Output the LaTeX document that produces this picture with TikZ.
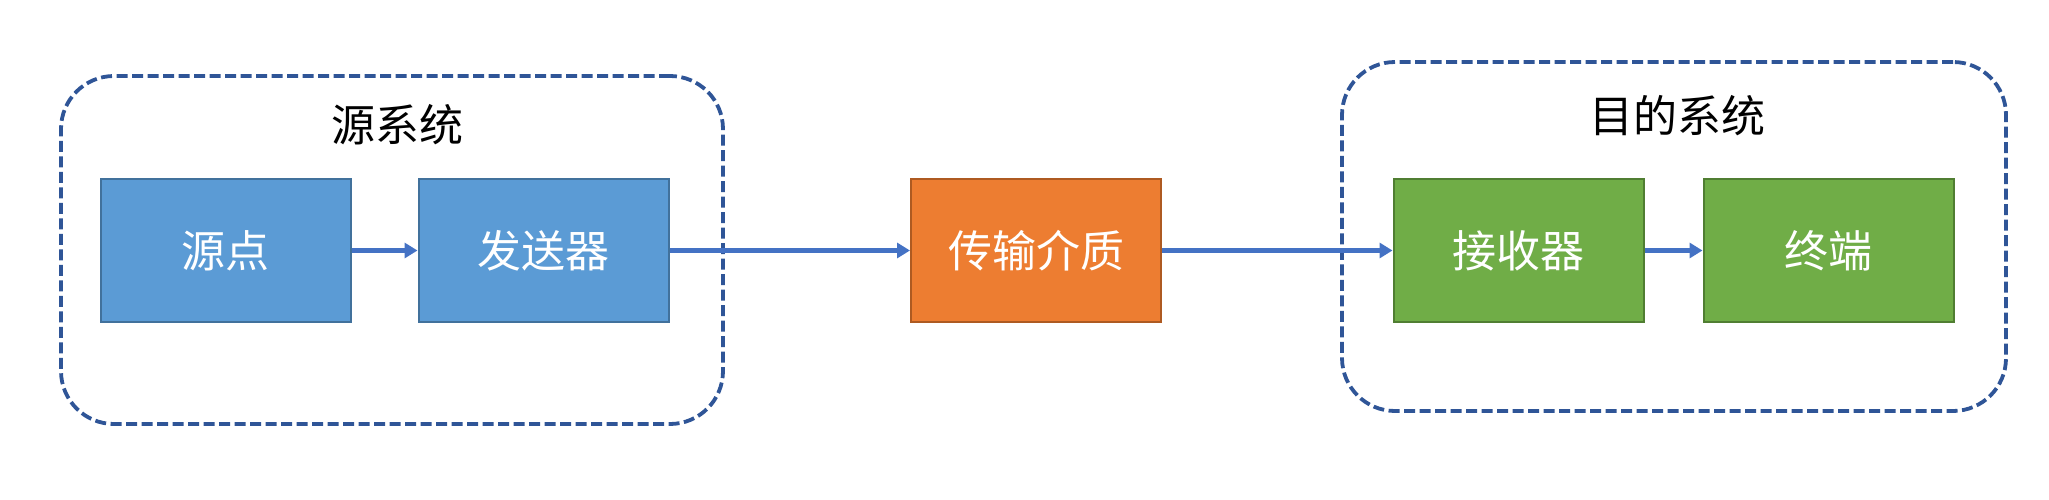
\documentclass[tikz,border=0pt]{standalone}
\usepackage{fontspec}
\newfontfamily\cjk{Noto Sans CJK SC}
\usetikzlibrary{arrows.meta}
\definecolor{bluefill}{HTML}{5B9BD5}
\definecolor{blueline}{HTML}{41719C}
\definecolor{orangefill}{HTML}{ED7D31}
\definecolor{orangeline}{HTML}{AE5A21}
\definecolor{greenfill}{HTML}{70AD47}
\definecolor{greenline}{HTML}{507E32}
\definecolor{groupline}{HTML}{2F5597}
\definecolor{arrowcol}{HTML}{4472C4}
\tikzset{
  stagebox/.style={draw, line width=2pt, minimum width=250pt, minimum height=143pt,
    inner sep=0pt, text=white, font=\cjk\fontsize{44}{50}\selectfont},
  bluebox/.style={stagebox, fill=bluefill, draw=blueline},
  orangebox/.style={stagebox, fill=orangefill, draw=orangeline},
  greenbox/.style={stagebox, fill=greenfill, draw=greenline},
  groupbox/.style={draw=groupline, line width=3.8pt, dash pattern=on 11pt off 4.5pt,
    rounded corners=53pt, inner sep=0pt},
  grouptitle/.style={text=black, inner sep=0pt, font=\cjk\fontsize{44}{50}\selectfont},
  flow/.style={draw=arrowcol, line width=4.2pt, -{Triangle[length=13pt,width=15pt]}}
}
\begin{document}
\begin{tikzpicture}[x=1pt,y=-1pt]
\useasboundingbox (0,0) rectangle (2049,500);
% groups
\node[groupbox, minimum width=662pt, minimum height=348pt] (srcgrp) at (392,250) {};
\node[groupbox, minimum width=664pt, minimum height=349pt] (dstgrp) at (1674,236.5) {};
\node[grouptitle] (srctitle) at (397,125) {源系统};
\node[grouptitle] (dsttitle) at (1677,116) {目的系统};
% stages
\node[bluebox] (source) at (225.5,250.5) {源点};
\node[bluebox] (sender) at (543.5,250.5) {发送器};
\node[orangebox] (medium) at (1036,250.5) {传输介质};
\node[greenbox] (receiver) at (1518.5,250.5) {接收器};
\node[greenbox] (terminal) at (1828.5,250.5) {终端};
% connectors
\draw[flow] (source) -- (sender);
\draw[flow] (sender) -- (medium);
\draw[flow] (medium) -- (receiver);
\draw[flow] (receiver) -- (terminal);
\end{tikzpicture}
\end{document}
